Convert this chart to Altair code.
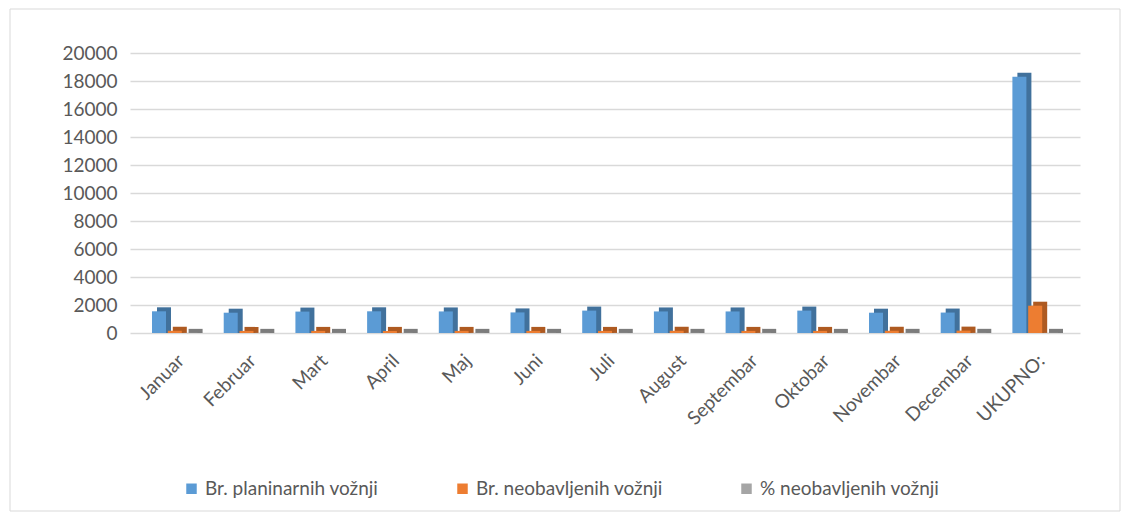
import altair as alt
import pandas as pd

categories = ["Januar", "Februar", "Mart", "April", "Maj", "Juni", "Juli",
              "August", "Septembar", "Oktobar", "Novembar", "Decembar", "UKUPNO:"]
series_names = ["Br. planinarnih vožnji", "Br. neobavljenih vožnji", "% neobavljenih vožnji"]
planned = [1550, 1450, 1530, 1550, 1540, 1470, 1600, 1540, 1540, 1600, 1450, 1460, 18300]
missed = [160, 150, 150, 150, 150, 150, 150, 160, 150, 150, 160, 170, 1950]
percent = [10, 10, 10, 10, 10, 10, 9, 10, 10, 9, 11, 12, 11]
colors = ["#5B9BD5", "#ED7D31", "#A5A5A5"]
side_colors = ["#41719C", "#AE5A21", "#7C7C7C"]

rows = []
for i, c in enumerate(categories):
    for s, vals in zip(series_names, [planned, missed, percent]):
        rows.append({"Mjesec": c, "Serija": s, "Vrijednost": vals[i]})
df = pd.DataFrame(rows)

FONT = "Lato"
FS = 19
W, H = 950, 280
STEP = W / (13 + 2 * 0.125)

x_enc = alt.X("Mjesec:N", sort=categories, title=None,
              scale=alt.Scale(paddingInner=0, paddingOuter=0.125),
              axis=alt.Axis(labelAngle=-45, labelFontSize=FS, labelColor="#595959",
                            labelFont=FONT, ticks=False, domain=False, labelPadding=18,
                            grid=False))
y_enc = alt.Y("Vrijednost:Q", title=None,
              scale=alt.Scale(domain=[0, 20000]),
              axis=alt.Axis(values=list(range(0, 20001, 2000)), format="d",
                            labelFontSize=FS, labelColor="#595959", labelFont=FONT,
                            ticks=False, domain=False, gridColor="#D9D9D9",
                            gridWidth=1.3, labelPadding=13))

base = alt.Chart(df)

sides = base.mark_bar(size=14, yOffset=-4).encode(
    x=x_enc,
    xOffset=alt.XOffset("Serija:N", sort=series_names,
                        scale=alt.Scale(paddingInner=0, paddingOuter=0.77,
                                        range=[5, STEP + 5])),
    y=y_enc,
    y2=alt.value(H + 4),
    color=alt.Color("Serija:N", sort=series_names,
                    scale=alt.Scale(domain=series_names, range=side_colors),
                    legend=None),
)

fronts = base.mark_bar(size=14).encode(
    x=x_enc,
    xOffset=alt.XOffset("Serija:N", sort=series_names,
                        scale=alt.Scale(paddingInner=0, paddingOuter=0.77,
                                        range=[0, STEP])),
    y=y_enc,
    fill=alt.Fill("Serija:N", sort=series_names,
                  scale=alt.Scale(domain=series_names, range=colors),
                  legend=alt.Legend(title=None, orient="none", direction="horizontal",
                                    legendX=52, legendY=426, columns=3,
                                    symbolType="square", symbolSize=110,
                                    labelFontSize=FS, labelColor="#595959",
                                    labelFont=FONT, columnPadding=74,
                                    symbolStrokeWidth=0, labelLimit=300)),
)

border = alt.Chart(alt.Data(values=[{}])).mark_rect(
    fill=None, stroke="#D9D9D9", strokeWidth=1
).encode(
    x=alt.value(-120), x2=alt.value(W + 40),
    y=alt.value(-44), y2=alt.value(H + 178),
)

chart = alt.layer(border, sides, fronts).properties(
    width=W, height=H,
    autosize=alt.AutoSizeParams(type="none"),
    padding={"left": 122, "top": 45, "right": 42, "bottom": 180},
).resolve_scale(color="independent", xOffset="independent").configure_view(stroke=None)

chart.save("out.html", embed_options={"renderer": "svg", "actions": False})
